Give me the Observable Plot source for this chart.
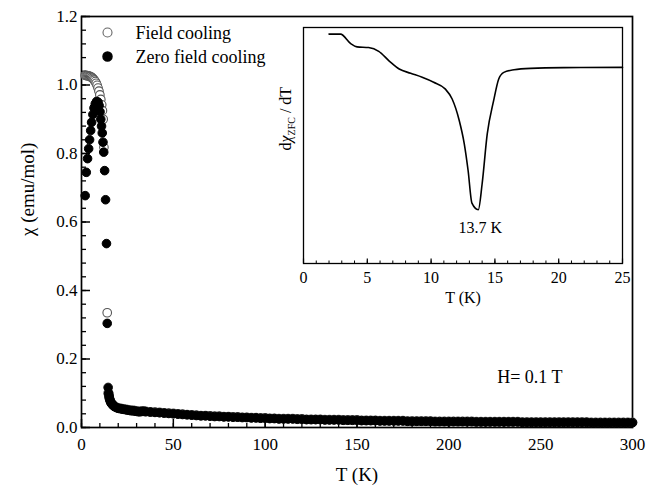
<!DOCTYPE html>
<html><head><meta charset="utf-8">
<script src="https://cdn.jsdelivr.net/npm/d3@7"></script>
<script src="https://cdn.jsdelivr.net/npm/@observablehq/plot@0.6"></script>
<style>
body{margin:0;background:#fff;}
#wrap{position:relative;width:655px;height:486px;overflow:hidden;}
#main{position:absolute;left:0;top:0;}
#inset{position:absolute;left:270px;top:0;}
</style></head><body>
<div id="wrap"><div id="main"></div><div id="inset"></div></div>
<script>
// ---- Main panel data ----
const fcLowT   = [2.0, 2.5, 3.0, 3.5, 4.0, 4.5, 5.0, 5.5, 6.0, 6.5, 7.0, 7.5, 8.0, 8.5, 9.0, 9.5, 10.0, 10.5, 11.0, 11.4, 11.8, 12.2, 14.0, 14.5];
const fcLowChi = [1.028, 1.028, 1.027, 1.027, 1.026, 1.025, 1.024, 1.022, 1.020, 1.017, 1.014, 1.010, 1.005, 0.999, 0.991, 0.982, 0.971, 0.958, 0.942, 0.925, 0.900, 0.818, 0.335, 0.100];
const zfcLowT   = [2.0, 2.6, 3.3, 3.9, 4.4, 5.0, 5.5, 6.2, 6.8, 7.5, 8.2, 9.0, 9.6, 10.1, 10.5, 10.9, 11.3, 11.7, 12.1, 12.6, 13.1, 13.6, 14.0, 14.5];
const zfcLowChi = [0.677, 0.745, 0.785, 0.814, 0.840, 0.867, 0.891, 0.914, 0.933, 0.945, 0.952, 0.950, 0.940, 0.922, 0.900, 0.880, 0.860, 0.833, 0.804, 0.750, 0.665, 0.537, 0.304, 0.117];
const earlyT = [14.8, 15.0, 15.2, 15.5, 15.8, 16.2, 16.6, 17.0, 17.5, 18.0, 19.0, 20.0, 21.0, 22.0, 23.0, 24.0, 25.0, 26.0, 27.0, 28.0, 29.0, 30.0, 31.0, 32.0, 33.0, 34.0];
const fcEarlyChi  = [0.098, 0.090, 0.085, 0.080, 0.076, 0.072, 0.069, 0.067, 0.064, 0.062, 0.059, 0.057, 0.056, 0.055, 0.054, 0.053, 0.052, 0.051, 0.050, 0.050, 0.049, 0.048, 0.047, 0.047, 0.048, 0.048];
const zfcEarlyChi = [0.100, 0.092, 0.086, 0.080, 0.075, 0.071, 0.068, 0.066, 0.063, 0.061, 0.058, 0.056, 0.055, 0.054, 0.053, 0.052, 0.051, 0.050, 0.049, 0.049, 0.048, 0.047, 0.046, 0.046, 0.047, 0.047];
// 35 K to 300 K, every 2.5 K
const lateT = d3.range(0, 107).map(i => 35 + i * 2.5);
const fcLateChi = [
  0.047, 0.046, 0.045, 0.044, 0.043, 0.042, 0.041, 0.040, 0.039, 0.038, 0.037, 0.036, 0.035, 0.035, 0.034, 0.033, 0.033, 0.032, 0.032, 0.031, 0.031, 0.030, 0.030, 0.029, 0.029, 0.028, 0.028,
  0.027, 0.027, 0.026, 0.026, 0.026, 0.026, 0.025, 0.025, 0.024, 0.024, 0.024, 0.024, 0.023, 0.023, 0.023, 0.023, 0.022, 0.022, 0.022, 0.022,
  0.021, 0.021, 0.021, 0.021, 0.020, 0.020, 0.020, 0.020, 0.020, 0.020, 0.019, 0.019, 0.019, 0.019, 0.019, 0.019, 0.018, 0.018, 0.018, 0.018,
  0.018, 0.018, 0.018, 0.018, 0.018, 0.017, 0.017, 0.017, 0.017, 0.017, 0.017, 0.017, 0.017, 0.017, 0.017, 0.016, 0.016, 0.016, 0.016, 0.016,
  0.016, 0.016, 0.016, 0.016, 0.016, 0.016, 0.016, 0.016, 0.016, 0.016, 0.015, 0.015, 0.015, 0.015, 0.015, 0.015, 0.015, 0.015, 0.015, 0.015];
const zfcLateChi = [
  0.046, 0.045, 0.044, 0.043, 0.042, 0.041, 0.040, 0.039, 0.038, 0.037, 0.036, 0.035, 0.034, 0.034, 0.033, 0.032, 0.032, 0.031, 0.031, 0.030, 0.030, 0.029, 0.029, 0.028, 0.028, 0.027, 0.027,
  0.026, 0.026, 0.025, 0.025, 0.025, 0.025, 0.024, 0.024, 0.023, 0.023, 0.023, 0.023, 0.022, 0.022, 0.022, 0.022, 0.021, 0.021, 0.021, 0.021,
  0.020, 0.020, 0.020, 0.020, 0.019, 0.019, 0.019, 0.019, 0.019, 0.019, 0.018, 0.018, 0.018, 0.018, 0.018, 0.018, 0.017, 0.017, 0.017, 0.017,
  0.017, 0.017, 0.017, 0.017, 0.017, 0.016, 0.016, 0.016, 0.016, 0.016, 0.016, 0.016, 0.016, 0.016, 0.016, 0.015, 0.015, 0.015, 0.015, 0.015,
  0.015, 0.015, 0.015, 0.015, 0.015, 0.015, 0.015, 0.015, 0.015, 0.015, 0.014, 0.014, 0.014, 0.014, 0.014, 0.014, 0.014, 0.014, 0.014, 0.014];
const legendLabels = ["Field cooling", "Zero field cooling"];
const xMajor = [0, 50, 100, 150, 200, 250, 300];
const yMajor = [0.0, 0.2, 0.4, 0.6, 0.8, 1.0, 1.2];
const xTitle = "T (K)";
const yTitle = "χ (emu/mol)";
const fieldNote = "H= 0.1 T";

// ---- Inset data ----
const insetT = [2.0, 2.9, 3.7, 4.2, 5.1, 5.9, 6.7, 7.5, 8.4, 9.3, 10.2, 11.1, 11.65, 12.2, 12.6, 12.9, 13.2, 13.7, 14.0, 14.4, 14.9, 15.3, 15.7, 16.5, 17.8, 20.4, 25.0];
const insetD = [97.2, 97.2, 93.2, 91.8, 91.5, 89.9, 85.9, 82.4, 80.6, 78.9, 76.8, 74.0, 69.7, 60.7, 50.7, 39.4, 25.6, 22.8, 33.8, 54.9, 69.0, 78.2, 81.0, 82.1, 82.7, 83.0, 83.1];
const insetXMajor = [0, 5, 10, 15, 20, 25];
const dipLabel = "13.7 K";
const insetXTitle = "T (K)";
const insetYParts = ["d", "χ", "ZFC", " / dT"];

const font = "'Liberation Serif', 'Times New Roman', Times, serif";

const fcT = fcLowT.concat(earlyT, lateT);
const fcChi = fcLowChi.concat(fcEarlyChi, fcLateChi);
const zfcT = zfcLowT.concat(earlyT, lateT);
const zfcChi = zfcLowChi.concat(zfcEarlyChi, zfcLateChi);
const fcRows = fcT.map((t, i) => ({T: t, chi: fcChi[i]}));
const zfcRows = zfcT.map((t, i) => ({T: t, chi: zfcChi[i]}));

const W = 655, H = 486, mL = 81, mR = 23, mT = 16, mB = 59;
const fw = W - mL - mR, fh = H - mT - mB;
const xMinor = d3.range(0, 31).map(i => i * 10);
const yMinor = d3.range(0, 31).map(i => +(i * 0.04).toFixed(2));

const main = Plot.plot({
  width: W, height: H, marginLeft: mL, marginRight: mR, marginTop: mT, marginBottom: mB,
  style: {fontFamily: font, fontSize: "17px", color: "black", background: "white"},
  x: {domain: [0, 300]},
  y: {domain: [0, 1.2]},
  marks: [
    Plot.tickX(xMinor, {x: d => d, insetTop: fh - 4, strokeWidth: 1.3}),
    Plot.tickX(xMajor, {x: d => d, insetTop: fh - 8, strokeWidth: 1.5}),
    Plot.tickY(yMinor, {y: d => d, insetRight: fw - 5, strokeWidth: 1.3}),
    Plot.tickY(yMajor, {y: d => d, insetRight: fw - 9, strokeWidth: 1.5}),
    Plot.frame({strokeWidth: 1.7}),
    Plot.axisX(xMajor, {tickSize: 0, tickPadding: 10, tickFormat: d => String(d), label: null}),
    Plot.axisY(yMajor, {tickSize: 0, tickPadding: 4, tickFormat: d => d.toFixed(1), label: null}),
    Plot.dot(fcRows, {x: "T", y: "chi", r: 4.3, fill: "white", stroke: "#555", strokeWidth: 1.1}),
    Plot.dot(zfcRows, {x: "T", y: "chi", r: 4.3, fill: "black", stroke: "black", strokeWidth: 1}),
    Plot.dot([0], {frameAnchor: "top-left", dx: 26, dy: 16, r: 4.5, fill: "white", stroke: "#666", strokeWidth: 1.1}),
    Plot.dot([0], {frameAnchor: "top-left", dx: 26, dy: 40, r: 4.5, fill: "black", stroke: "black"}),
    Plot.text([legendLabels[0]], {frameAnchor: "top-left", dx: 54, dy: 17, textAnchor: "start", lineAnchor: "middle", fontSize: 18}),
    Plot.text([legendLabels[1]], {frameAnchor: "top-left", dx: 54, dy: 41, textAnchor: "start", lineAnchor: "middle", fontSize: 18}),
    Plot.text([xTitle], {frameAnchor: "bottom", dy: 47, lineAnchor: "middle", fontSize: 19}),
    Plot.text([yTitle], {frameAnchor: "left", rotate: -90, dx: -54, dy: 14, lineAnchor: "middle", fontSize: 19}),
    Plot.text([fieldNote], {frameAnchor: "bottom-right", dx: -70, dy: -50, lineAnchor: "middle", fontSize: 18})
  ]
});
document.getElementById("main").appendChild(main);

// ---- Inset ----
const iW = 370, iH = 310, iL = 33, iR = 18, iT = 27, iB = 47;
const ifh = iH - iT - iB;
const insetRows = insetT.map((t, i) => ({T: t, d: insetD[i]}));
const dipIdx = d3.minIndex(insetD);
const dipRows = [{T: insetT[dipIdx], d: insetD[dipIdx], label: dipLabel}];

const inset = Plot.plot({
  width: iW, height: iH, marginLeft: iL, marginRight: iR, marginTop: iT, marginBottom: iB,
  style: {fontFamily: font, fontSize: "16px", color: "black", background: "transparent"},
  x: {domain: [0, 25]},
  y: {domain: [0, 100], axis: null},
  marks: [
    Plot.tickX(d3.range(0, 26), {x: d => d, insetTop: ifh - 2.5, strokeWidth: 1}),
    Plot.tickX(insetXMajor, {x: d => d, insetTop: ifh - 4.5, strokeWidth: 1.2}),
    Plot.frame({strokeWidth: 1.3}),
    Plot.axisX(insetXMajor, {tickSize: 0, tickPadding: 8, tickFormat: d => String(d), label: null}),
    Plot.line(insetRows, {x: "T", y: "d", strokeWidth: 1.6, curve: "monotone-x"}),
    Plot.text(dipRows, {x: "T", y: "d", text: "label", dy: 18, dx: 2}),
    Plot.text([insetXTitle], {frameAnchor: "bottom", dy: 34, lineAnchor: "middle"}),
    Plot.text([insetYParts.join("")], {frameAnchor: "left", rotate: -90, dx: -18, dy: 5, lineAnchor: "middle"})
  ]
});
document.getElementById("inset").appendChild(inset);

// rich text for inset y label (subscript)
const yl = [...inset.querySelectorAll("text")].find(e => e.textContent === insetYParts.join(""));
if (yl) {
  yl.textContent = "";
  const add = (s, attrs) => {
    const ts = document.createElementNS("http://www.w3.org/2000/svg", "tspan");
    ts.textContent = s;
    for (const k in attrs) ts.setAttribute(k, attrs[k]);
    yl.appendChild(ts);
  };
  add(insetYParts[0], {});
  add(insetYParts[1], {"font-style": "italic"});
  add(insetYParts[2], {"font-size": "10px", dy: "4"});
  add(insetYParts[3], {dy: "-4"});
}
</script></body></html>
